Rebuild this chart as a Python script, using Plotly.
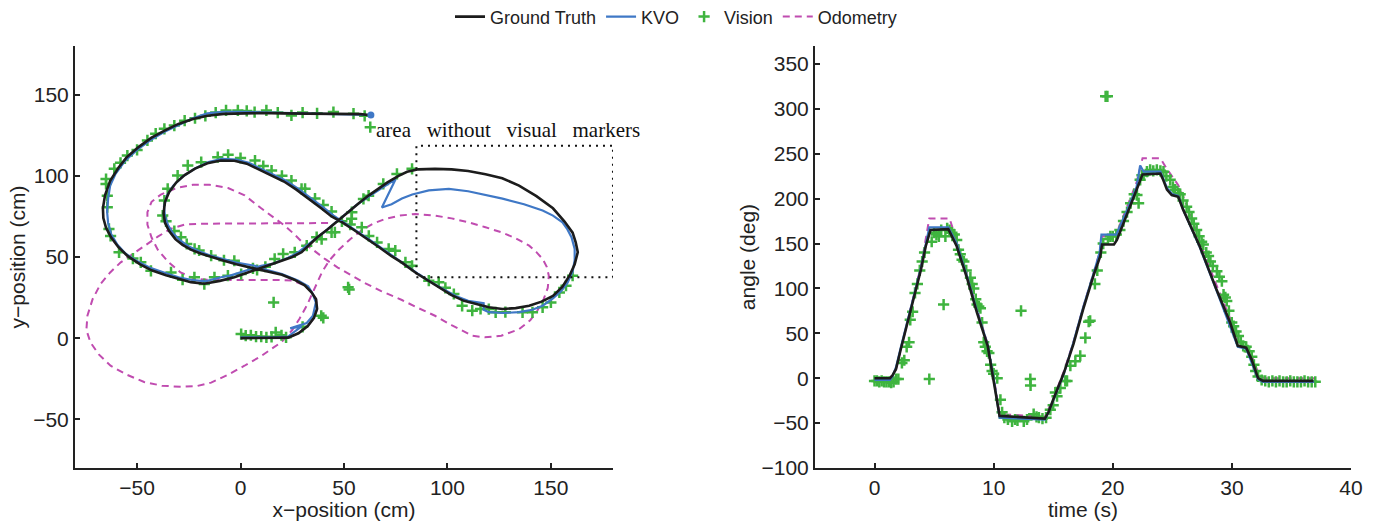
import plotly.graph_objects as go

# ---------------- Left panel: trajectories (cm) ----------------
gt_x = [0, 8, 16, 23, 28, 32.5, 35.5, 37, 36.5, 34.3, 31, 26, 20, 13, 5, -2, -8, -14, -19, -24, -28, -31.5,
        -34.5, -36.5, -37.2, -36.5, -34.5, -31, -27, -22, -16, -9.5, -3, 3, 9, 15, 21, 27, 33, 39, 44, 49, 55,
        61, 67, 73, 78, 85, 91, 97, 102, 108, 113.6, 120, 126.6, 133, 139.5, 145.5, 151, 155.5, 159, 161.5,
        163, 162, 160.5, 156.5, 151, 143, 134.6, 126.5, 118.4, 110, 102, 94, 86, 80.5, 76.4, 71, 66, 62, 57,
        52, 47, 42, 37, 33, 29.5, 25, 21.4, 15, 8.4, 2, -3, -10, -17.5, -24, -30, -36, -43, -48.5, -54.5, -59,
        -62.5, -65, -66.3, -66.5, -65.5, -63, -59, -55, -49, -43, -36.5, -30, -23, -16, -8, 0, 10, 20, 30, 40,
        50, 58, 62]
gt_y = [0, 0, 0, 0.3, 3, 7.5, 12.5, 18, 24, 28.2, 32.5, 36, 39, 41, 43.6, 45.5, 47.7, 49.8, 52, 54.5, 57.5, 61,
        66, 71, 77, 84, 90, 96, 100.5, 104.5, 107.8, 109.5, 109.3, 107.5, 104, 100.5, 96.5, 91.5, 86, 80, 75,
        71.5, 66.5, 61.5, 56, 50.5, 46.5, 40, 35.4, 30.5, 26.5, 23, 21, 19, 18, 18.5, 20, 22.5, 26, 31.5, 38.5,
        45.5, 53, 59, 65, 72, 80, 87.5, 94, 98.5, 101, 103, 104, 104.3, 104, 102.5, 100, 96, 91.5, 88, 83,
        77.5, 72, 67, 62, 57.5, 53, 50, 48.5, 45.5, 42.6, 40, 37.5, 35.3, 33.5, 34.5, 36.5, 38.8, 41.8, 45.5,
        50.5, 56, 62, 68, 74, 80, 88, 97, 105, 111.5, 118, 123.5, 128, 132, 135, 137, 138.2, 138.5, 138.7,
        138.5, 138.4, 138.3, 138.2, 138, 137.5]

kvo_x = [0, 8, 16, 23, 29.5, 24, 32, 35, 36.4, 35, 32.7, 28, 20, 13, 6.8, -2, -9.4, -15, -20, -25, -29, -32.5,
         -35, -36.5, -37, -35.5, -32.5, -28, -22, -15.5, -9, -2, 4, 10, 16, 22, 28, 34, 40, 45, 50, 56, 62, 68,
         74, 80, 86, 92, 98, 104, 110, 117.5, 117.5, 120, 127, 134.6, 141, 146, 151, 155, 158, 160.5, 161.5,
         161.5, 160, 158, 155.6, 151, 146, 137, 126.6, 118, 110, 100.7, 91, 83, 78, 73, 68.3, 75, 70, 65, 61,
         56, 51, 46, 41, 36, 32, 28, 23, 16, 10, 4, 0.3, -5, -9.4, -17, -24, -30, -37, -44, -50, -55.5, -59.5,
         -62.5, -64, -64.5, -64, -63, -60.5, -56, -50, -43.5, -37, -30, -23, -16, -8, 0, 10, 20, 30, 40, 50,
         58, 63]
kvo_y = [0.5, 0.5, 0.5, 1, 7.2, 6, 9.3, 13.8, 22, 27, 32, 35.4, 39.5, 42, 44.6, 46.5, 48.8, 51, 53.5, 56.5, 60,
         64.5, 69.5, 75, 81, 88, 94, 99.5, 104.5, 108.5, 110.5, 110, 108, 104.5, 101, 97, 92, 86.5, 80.5, 75.5,
         71, 66, 61, 55.5, 50, 45, 39.5, 34.5, 30, 26, 23, 21.5, 17.5, 16, 15.5, 16, 17.5, 20, 24.5, 29, 34, 41,
         48, 55, 62, 67, 71.4, 75.5, 78.6, 82.5, 86, 88.5, 90.5, 92, 91, 88.5, 86, 82.5, 80.5, 98, 94, 90, 86.5,
         82, 76.5, 71, 66, 61, 57, 53, 49.5, 46, 44.6, 42, 40.5, 38.5, 37.5, 35, 36, 37.5, 40.5, 43.5, 47.5,
         52, 57.5, 64, 71, 78, 86, 94, 101, 109, 116, 122, 127, 131.5, 135.5, 138.5, 139.5, 139.5, 139, 138.8,
         138.5, 138.3, 138.2, 138, 137.5]

odo_x = [0, 8, 16, 23, 28, 32.5, 35.5, 37, 36.5, 34, 30, 25, 18, 10, 2, -6, -14, -22, -29, -35, -40, -43, -45,
         -45, -43, -38.5, -31, -23, -15, -6, 2, 10, 16, 21.4, 26, 29.5, 35, 40.8, 47, 53.7, 60, 68, 78, 86, 94,
         102, 108, 112, 118, 126, 134.6, 140, 143.5, 146.5, 148.5, 149, 148, 146, 143, 139.5, 133, 126.6, 118,
         110, 102, 94, 84.5, 77, 70, 64, 58.6, 53, 47.5, 43, 39.5, 37, 34.5, 32, 28.5, 25, 19.7, 10, 1.9, -6,
         -14.2, -21, -28.8, -38, -46.6, -55, -62.8, -68.5, -72.5, -74.5, -74, -71.5, -67.6, -63, -57.9, -52,
         -46.6, -40, -33.6, -27, -20, -10, 0, 10, 20, 30, 38, 44]
odo_y = [0, 0, 0, 0.3, 3, 7.5, 12.5, 18, 24, 29, 33, 35.5, 35.8, 35.8, 35.8, 35.8, 35.8, 36.5, 40.5, 47, 54.5,
         62, 70, 77.6, 84, 88.5, 92.5, 94.5, 94.5, 92.5, 88, 80, 74.5, 69.3, 64, 59.5, 54.5, 48.8, 43.5, 38.5,
         34, 29, 23.5, 18.5, 13.8, 8, 4, 1.5, 0.5, 1.5, 5.5, 11, 17, 24, 31, 38.5, 44, 48.8, 53, 57, 61.5, 65,
         68.5, 71.4, 73.8, 75.5, 76.5, 75.5, 73.5, 70.5, 66.5, 61, 54.5, 48, 41, 34, 27, 20, 12, 5, -2.5, -11,
         -17, -22.5, -27.4, -29.5, -30, -29.3, -27, -22.5, -17, -10, -2.7, 5, 13.8, 24, 33.5, 40.5, 46.7, 52,
         57, 62.5, 67.5, 70, 70.5, 70.5, 70.5, 70.6, 70.8, 70.8, 70.9, 71]

vis_x = [0.3, 2.5, 5, 7.5, 10, 12.5, 15, 17, 19.8, 22, 30, 39, 40, 16, 52, 52.5,
         6, -3, -8, -14.2, -20, -22.2, -26, -28.8, -32, -36, -37.6, -36.8, -35.2, -30.4, -25.5, -19, -11, -6, 0,
         7, 11, 15, 20, 24.6, 29.5, 31.2, 36, 40, 44,
         53, 58.6, 62, 66, 71.6, 74.8, 79.7, 82.9, 91, 95.8, 99, 103.1, 107.1, 112, 116, 120, 123.3, 128, 136.3,
         141.1, 146, 150, 154.1, 157.3, 160.5,
         82.9, 75.6, 69, 61.9, 59.4, 53.8, 53.7, 49, 45.6, 44, 39.2, 36.8, 32, 26.2, 20.6, 16.5, 12, 8, 0.3, -6.1,
         -12.6, -17.5, -22.3, -28, -33.6, -43.3, -48.2, -52, -58.7, -62.8, -63.6, -64.4, -64.4, -65, -65, -61,
         -58, -54.7, -50, -45, -41, -36.8, -32, -27, -22, -17, -12, -7, -1.3, 3, 6.8, 12.5, 18, 24.6, 30, 37,
         44.9, 54.6, 60, 62.7]
vis_y = [2.5, 1.5, 1.8, 1, 1, 0.5, 0.8, 3.5, 1.8, 0.5, 7, 13.8, 12.5, 22, 31.3, 30,
         43, 47.7, 48, 50.8, 54, 55, 58, 62.2, 66, 72, 75.5, 84.8, 92, 100.2, 106.4, 108.4, 111.5, 113, 111,
         109.4, 106, 103.3, 100, 97.1, 92, 92, 86, 82, 78,
         70, 68.3, 63, 59, 55, 53.9, 46.7, 44.6, 35.4, 34.4, 31, 27.2, 19.9, 16.9, 18, 17.9, 15.9, 16, 15.9,
         15.9, 19, 22, 28.2, 32.3, 38.5,
         104.3, 101.2, 95, 87.8, 85.8, 77.6, 73.5, 72, 65.2, 65.2, 61, 62.2, 57, 52.9, 51.9, 48.8, 44, 42, 39.5,
         38.5, 37.5, 33.3, 37.5, 36, 40.5, 41.5, 46.7, 49, 52.9, 63, 67.3, 80.7, 87.8, 95, 98, 104.3, 108, 112.5,
         116, 121.8, 126, 129, 131, 134, 135.5, 137, 139, 140.3, 140.3, 140, 139.3, 140.3, 139, 137.2, 139,
         138.5, 139.3, 138.3, 137, 130]

# no-marker area (cm)
area_x = [85, 180]
area_y = [37.5, 118.5]
area_label = "area\u00a0\u00a0 without\u00a0\u00a0 visual\u00a0\u00a0 markers"

# ---------------- Right panel: heading angle vs time ----------------
gt_t = [0, 1.3, 1.5, 1.8, 2.2, 2.7, 3.3, 3.9, 4.3, 4.7, 6.2, 6.5, 6.9, 7.8, 8.6, 9.5, 10.0, 10.5, 14.3, 14.6,
        15.0, 15.9, 16.7, 17.5, 18.4, 18.95, 19.1, 20.1, 20.35, 21.2, 22.0, 22.5, 24.0, 24.2, 24.55, 24.95, 25.5,
        25.9, 27.3, 28.7, 29.85, 30.5, 31.2, 31.65, 32.2, 32.6, 36.85]
gt_a = [0, 0, 3, 10, 32, 58, 91, 121, 147, 165, 166, 158, 147, 110, 73, 36, -1, -42, -45, -38, -24, 6, 38, 76,
        115, 136, 149, 149, 154, 184, 210, 227, 228, 222, 210, 204, 202, 188, 147, 99, 62, 36, 34, 21, 0, -3, -3]

kvo_t = [0, 1.3, 1.5, 1.8, 2.2, 2.7, 3.3, 3.9, 4.3, 4.6, 6.2, 6.5, 6.9, 7.8, 8.6, 9.5, 10.0, 10.5, 14.3, 14.6,
         15.0, 15.9, 16.7, 17.5, 18.4, 18.9, 19.05, 20.0, 20.3, 21.2, 22.0, 22.3, 22.6, 24.0, 24.2, 24.55, 25.0,
         25.5, 25.9, 27.3, 28.7, 29.8, 30.5, 31.2, 31.6, 32.2, 32.6, 36.9]
kvo_a = [-2, -2, 2, 12, 34, 60, 93, 123, 149, 168, 168, 160, 150, 112, 75, 37, 0, -44, -46, -38, -25, 5, 40, 78,
         117, 140, 160, 160, 160, 187, 213, 237, 230, 230, 224, 212, 205, 203, 188, 146, 98, 60, 35, 33, 20, -1,
         -4, -4]

odo_t = [0, 1.3, 1.8, 2.7, 3.3, 3.9, 4.3, 4.6, 6.3, 6.6, 7.0, 7.8, 8.6, 9.5, 10.0, 10.5, 14.3, 15.0, 15.9, 16.7,
         17.5, 18.4, 18.9, 19.1, 20.2, 20.4, 21.2, 22.0, 22.5, 24.0, 24.5, 25.5, 26.5, 27.3, 28.7, 29.9, 30.6,
         31.2, 31.7, 32.3, 32.7, 37.0]
odo_a = [0, 0, 10, 58, 93, 125, 155, 178, 178, 165, 150, 115, 77, 38, 2, -40, -43, -23, 8, 40, 78, 117, 140,
         158, 158, 164, 192, 218, 245, 245, 234, 215, 184, 152, 104, 65, 40, 36, 24, 3, 0, 0]

vis_t = [0, 0.2, 0.4, 0.6, 0.8, 1.0, 1.2, 1.4, 1.6, 1.8, 2.0, 2.3, 2.5, 2.7, 2.9, 3.0, 3.2, 3.4, 3.6, 3.8,
         4.0, 4.2, 4.6, 4.8, 5.0, 5.2, 5.4, 5.6, 5.8, 5.95, 6.1, 6.3, 6.5, 6.7, 6.9,
         7.05, 7.2, 7.35, 7.5, 7.7, 8.05, 8.2, 8.33, 8.5, 8.61, 8.75, 8.89, 9.03, 9.17, 9.3, 9.45, 9.6, 9.75,
         9.87, 10.0, 10.3, 10.57, 10.71, 10.9, 11.2, 11.55, 11.8, 12.0, 12.3, 12.53, 12.8, 13.08, 13.1, 13.36,
         13.6, 13.8, 14.1, 14.4, 14.76, 15.0, 15.18, 15.32, 15.6, 16.02, 16.16, 16.44, 16.86, 17.27, 17.7,
         17.98, 18.1, 18.5, 18.7, 19.0, 19.2, 19.4, 19.55, 19.6, 19.8, 20.0, 20.3, 20.6, 20.9, 21.2, 21.5, 21.8,
         22.03, 22.17, 22.3, 22.45, 22.59, 22.87, 23.14, 23.4, 23.7, 24.0, 24.26, 24.5, 24.82, 25.05, 25.24,
         25.5, 25.66, 25.9, 26.2, 26.4, 26.62, 26.8, 27.04, 27.25, 27.46, 27.6, 27.85, 28.04, 28.2, 28.4,
         28.74, 28.95, 29.16, 29.3, 29.45, 29.57, 29.75, 29.99, 30.15, 30.35, 30.55, 30.75, 30.95, 31.2, 31.45,
         31.67, 31.85, 32.0, 32.2, 32.5, 32.8, 33.1, 33.4, 33.7, 34.0, 34.3, 34.6, 34.9, 35.2, 35.5, 35.8,
         36.1, 36.4, 36.7, 37.0]
vis_a = [-3, -3, -4, -3, -4, -4, -4, -5, -4, -1, -1, 17, 20, 35, 40, 65, 74, 95, 105, 120,
         130, 140, -1, 152, 162, 160, 158, 165, 82, 158, 167, 165, 162, 160, 154,
         143, 138, 132, 130, 120, 112, 105, 100, 88, 82, 80, 78, 62, 40, 35, 30, 28, 15,
         8, 5, 0, -24, -38, -44, -46, -48, -46, -47, 75, -48, -46, -1, -8, -40,
         -43, -44, -45, -44, -35, -30, -16, -20, -11, -3, -3, 14, 19, 25, 45,
         63, 64, 105, 120, 140, 150, 314, 314, 155, 158, 158, 160, 165, 175, 185, 195, 205,
         204, 195, 221, 226, 226, 230, 232, 231, 232, 231, 230, 225, 221, 213, 210,
         206, 205, 198, 191, 185, 178, 172, 165, 158, 152, 149, 140, 136, 130, 125,
         119, 113, 108, 93, 90, 86, 75, 62, 58, 52, 47, 40, 36, 35, 30,
         24, 15, 8, 2, -2, -3, -4, -3, -4, -3, -4, -4, -3, -4, -4, -4,
         -3, -4, -4, -4]

# ---------------- styling ----------------
C_GT = "#1c1c1c"
C_KVO = "#3f78c6"
C_VIS = "#3fb43f"
C_ODO = "#c04cb0"
FONT = "Liberation Sans, Arial, sans-serif"
AX = "#222222"

fig = go.Figure()


def add_panel(xa, ya, ox, oy, vx, vy, kx, ky, gx, gy, show):
    fig.add_trace(go.Scatter(x=ox, y=oy, mode="lines", name="Odometry", legendrank=4, showlegend=show,
                             line=dict(color=C_ODO, width=2, dash="7px,5px"), xaxis=xa, yaxis=ya))
    fig.add_trace(go.Scatter(x=vx, y=vy, mode="markers", name="Vision", legendrank=3, showlegend=show,
                             marker=dict(symbol="cross-thin", size=8, line=dict(color=C_VIS, width=2.5)),
                             xaxis=xa, yaxis=ya))
    fig.add_trace(go.Scatter(x=kx, y=ky, mode="lines", name="KVO", legendrank=2, showlegend=show,
                             line=dict(color=C_KVO, width=2.2), xaxis=xa, yaxis=ya))
    fig.add_trace(go.Scatter(x=gx, y=gy, mode="lines", name="Ground Truth", legendrank=1, showlegend=show,
                             line=dict(color=C_GT, width=2.6), xaxis=xa, yaxis=ya))


add_panel("x", "y", odo_x, odo_y, vis_x, vis_y, kvo_x, kvo_y, gt_x, gt_y, True)
add_panel("x2", "y2", odo_t, odo_a, vis_t, vis_a, kvo_t, kvo_a, gt_t, gt_a, False)

# end point of the KVO trajectory
fig.add_trace(go.Scatter(x=[kvo_x[-1]], y=[kvo_y[-1]], mode="markers", showlegend=False,
                         marker=dict(color=C_KVO, size=7), xaxis="x", yaxis="y"))

axis_common = dict(showline=True, linecolor=AX, linewidth=2, ticks="inside", ticklen=5, tickwidth=2,
                   tickcolor=AX, showgrid=False, zeroline=False, mirror=False,
                   tickfont=dict(family=FONT, size=21, color=AX),
                   title_font=dict(family=FONT, size=21, color=AX))

fig.update_layout(
    width=1377, height=521,
    margin=dict(l=75, r=26, t=46, b=53, autoexpand=False),
    paper_bgcolor="white", plot_bgcolor="white",
    font=dict(family=FONT, color=AX),
    xaxis=dict(domain=[0, 0.4216], range=[-80, 180], tick0=0, dtick=50,
               title=dict(text="x\u2212position (cm)", standoff=3), **axis_common),
    yaxis=dict(domain=[0, 1], range=[-80, 180], tick0=0, dtick=50, anchor="x",
               title=dict(text="y\u2212position (cm)", standoff=2), **axis_common),
    xaxis2=dict(domain=[0.5799, 1], range=[-5, 40], tick0=0, dtick=10, anchor="y2",
                title=dict(text="time (s)", standoff=3), **axis_common),
    yaxis2=dict(domain=[0, 1], range=[-100, 370], tick0=0, dtick=50, anchor="x2",
                title=dict(text="angle (deg)", standoff=0), **axis_common),
    legend=dict(orientation="h", x=0.471, xanchor="center", y=1.069, yanchor="middle",
                font=dict(family=FONT, size=18, color=AX), bgcolor="rgba(0,0,0,0)",
                itemwidth=30, traceorder="normal"),
    showlegend=True,
)

fig.add_shape(type="rect", xref="x", yref="y", x0=area_x[0], x1=area_x[1], y0=area_y[0], y1=area_y[1],
              line=dict(color="#111111", width=2, dash="2px,5px"), fillcolor="rgba(0,0,0,0)")

fig.add_annotation(xref="x", yref="y", x=(area_x[0] + area_x[1]) / 2 - 3, y=area_y[1] + 9.5,
                   text=area_label, showarrow=False,
                   font=dict(family="Liberation Serif, Times New Roman, serif", size=21, color="#111111"))

fig.write_html("out.html")
